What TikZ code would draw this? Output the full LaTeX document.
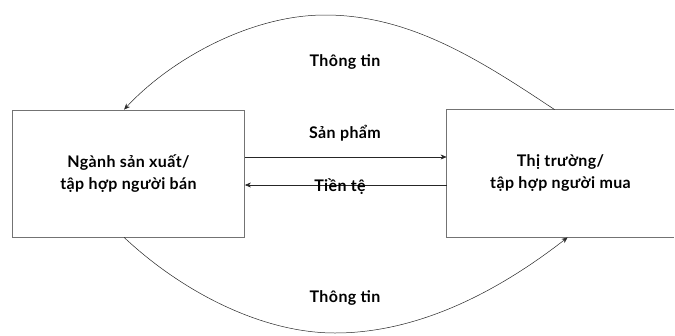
\documentclass[tikz,border=0pt]{standalone}
\usepackage{fontspec}
\setmainfont{Lato}[UprightFont=* Bold, LetterSpace=2.5]
\usetikzlibrary{arrows.meta}
\begin{document}
\begin{tikzpicture}[x=1pt,y=-1pt,
  box/.style={line width=0.8pt, inner sep=0pt, align=center,
              font=\fontsize{16}{22}\selectfont},
  edge/.style={draw=black!55, line width=0.8pt},
  flow/.style={draw=black!85, line width=0.5pt, -{Stealth[length=6pt,width=5pt]}},
  lbl/.style={font=\fontsize{16}{18}\selectfont}]
\useasboundingbox (0,0) rectangle (675,335);
% two market actors
\node[box, draw=black!55, minimum width=232pt, minimum height=127pt] (lb) at (128.5,173.5)
  {Ngành sản xuất/\\tập hợp người bán};
\node[box, minimum width=227pt, minimum height=127pt] (rb) at (560.5,173.5)
  {Thị trường/\\tập hợp người mua};
\draw[edge] (rb.north east) -- (rb.north west) -- (rb.south west) -- (rb.south east);
% goods and money flows
\draw[flow] (lb.east |- 0,157) -- (rb.west |- 0,157);
\draw[flow] (rb.west |- 0,185) -- (lb.east |- 0,185);
\node[lbl] (sp) at (345,133) {Sản phẩm};
\node[lbl] (tt) at (340,187) {Tiền tệ};
% information loops
\draw[flow] ([xshift=108pt]rb.north west)
  .. controls (480,60) and (410,15) .. (325,15)
  .. controls (250,15) and (170,60) .. ([xshift=112pt]lb.north west);
\draw[flow] ([xshift=112pt]lb.south west)
  .. controls (180,290) and (260,333) .. (335,333)
  .. controls (420,333) and (500,290) .. ([xshift=121pt]rb.south west);
\node[lbl] (ti1) at (345,62) {Thông tin};
\node[lbl] (ti2) at (345,298) {Thông tin};
\end{tikzpicture}
\end{document}
